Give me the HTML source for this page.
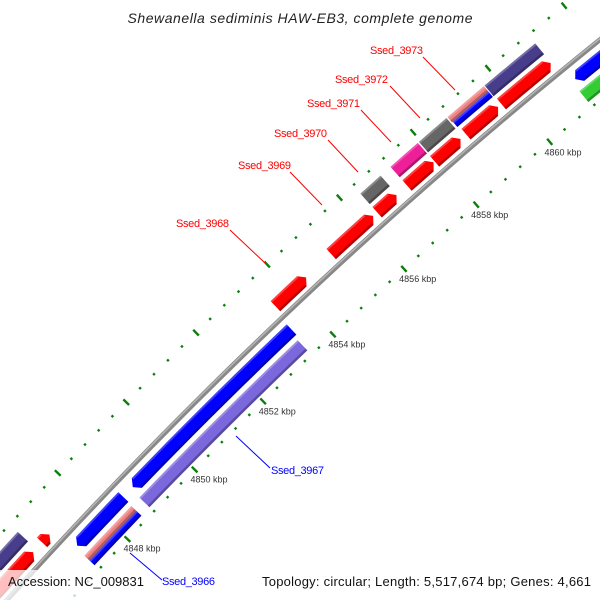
<!DOCTYPE html>
<html><head><meta charset="utf-8"><style>
html,body{margin:0;padding:0;background:#fff;width:600px;height:600px;overflow:hidden;}
svg{display:block;font-family:"Liberation Sans","DejaVu Sans",sans-serif;}
</style></head><body>
<svg id="map" width="600" height="600" viewBox="0 0 600 600" xmlns="http://www.w3.org/2000/svg">
<rect x="0" y="0" width="600" height="600" fill="#fff"/>
<g id="ticks"></g>
<g id="backbone"></g>
<g id="features"></g>
<g id="ticklabels"></g>
<g font-size="11">
<line x1="423" y1="57" x2="455" y2="90" stroke="#f00" stroke-width="1"/>
<text x="370" y="54" fill="#f00" textLength="53">Ssed_3973</text>
<line x1="390" y1="86" x2="420" y2="118" stroke="#f00" stroke-width="1"/>
<text x="335" y="83" fill="#f00" textLength="53">Ssed_3972</text>
<line x1="361" y1="110" x2="391" y2="142" stroke="#f00" stroke-width="1"/>
<text x="307" y="107" fill="#f00" textLength="53">Ssed_3971</text>
<line x1="328" y1="140" x2="358" y2="172" stroke="#f00" stroke-width="1"/>
<text x="274" y="137" fill="#f00" textLength="53">Ssed_3970</text>
<line x1="290" y1="172" x2="322" y2="205" stroke="#f00" stroke-width="1"/>
<text x="238" y="169" fill="#f00" textLength="53">Ssed_3969</text>
<line x1="230" y1="230" x2="265" y2="263" stroke="#f00" stroke-width="1"/>
<text x="176" y="227" fill="#f00" textLength="53">Ssed_3968</text>
<line x1="236" y1="436" x2="270" y2="468" stroke="#00f" stroke-width="1"/>
<text x="271" y="474" fill="#00f" textLength="53">Ssed_3967</text>
<line x1="130" y1="553" x2="162" y2="580" stroke="#00f" stroke-width="1"/>
<text x="162" y="585" fill="#00f" textLength="53">Ssed_3966</text>
</g>
<text x="300" y="23" text-anchor="middle" font-size="14" font-style="italic" fill="#222" textLength="345">Shewanella sediminis HAW-EB3, complete genome</text>
<rect x="0" y="570" width="150" height="30" fill="#fff" fill-opacity="0.75"/>
<text x="8" y="586" font-size="13" fill="#111" textLength="136">Accession: NC_009831</text>
<text x="591" y="586" font-size="13" text-anchor="end" fill="#111" textLength="329">Topology: circular; Length: 5,517,674 bp; Genes: 4,661</text>
</svg>
<script>
// ---- data ----
const majorTicks = [4842,4844,4846,4848,4850,4852,4854,4856,4858,4860,4862,4864];
const tickLabels = ["4842 kbp","4844 kbp","4846 kbp","4848 kbp","4850 kbp","4852 kbp","4854 kbp","4856 kbp","4858 kbp","4860 kbp","4862 kbp","4864 kbp"];
const minorStep = 0.4;
const featStart = [4843.0,4846.75,4853.54,4855.10,4856.37,4857.19,4857.94,4858.79,4859.74, 4843.0,4856.37,4857.19,4857.96,4858.73,4858.75,4859.72, 4847.19,4848.85,4861.23, 4847.14,4847.14,4848.79,4861.14];
const featEnd   = [4846.48,4846.97,4854.40,4856.26,4856.90,4857.91,4858.64,4859.65,4861.05, 4846.57,4856.92,4857.93,4858.70,4859.70,4859.70,4861.06, 4848.57,4853.45,4865.0, 4848.55,4848.55,4853.39,4865.0];
const featLane  = ["f1","f1","f1","f1","f1","f1","f1","f1","f1", "f2","f2","f2","f2","f2o","f2i","f2", "r1","r1","r1", "r2o","r2i","r2","r2"];
const featColor = ["#ff0000","#ff0000","#ff0000","#ff0000","#ff0000","#ff0000","#ff0000","#ff0000","#ff0000", "#483d8b","#666666","#ee1f99","#666666","#f08080","#0000ff","#483d8b", "#0000ff","#0000ff","#0000ff", "#f08080","#0000ff","#7b68dd","#33cc33"];
const featDir   = [1,1,1,1,1,1,1,1,1, 0,0,0,0,0,0,0, -1,-1,-1, 0,0,0,0];

// ---- geometry ----
const NS="http://www.w3.org/2000/svg";
const CX=3815, CY=4036, R_BACK=5129, R_OUT_TICK=5178, R_IN_TICK=5082, R_LAB=5066;
const DEG_PER_KBP=0.545, REF_KBP=4854, REF_DEG=-133.25;
const LANES={f1:[5135,5149],f2:[5153,5167],f2o:[5160,5167],f2i:[5153,5160],r1:[5107,5121],r2:[5088,5102],r2o:[5095,5102],r2i:[5088,5095]};
function ang(k){return (REF_DEG+(k-REF_KBP)*DEG_PER_KBP)*Math.PI/180;}
function pt(k,r){const a=ang(k);return [CX+r*Math.cos(a),CY+r*Math.sin(a)];}
function arcPts(a,b,r){const n=Math.max(2,Math.ceil(Math.abs(b-a)/0.5)+1);const out=[];for(let i=0;i<n;i++){out.push(pt(a+(b-a)*i/(n-1),r));}return out;}
function poly(pts){return "M"+pts.map(p=>p[0].toFixed(2)+","+p[1].toFixed(2)).join("L")+"Z";}

// backbone
const bb=document.getElementById("backbone");
const bbPts=arcPts(4840,4868,R_BACK);
const bbD="M"+bbPts.map(p=>p[0].toFixed(2)+","+p[1].toFixed(2)).join("L");
const bbLine=document.createElementNS(NS,"path");


bbLine.setAttribute("d",bbD);bbLine.setAttribute("fill","none");bbLine.setAttribute("stroke","#888");bbLine.setAttribute("stroke-width","5");
bb.appendChild(bbLine);
const bbHi=document.createElementNS(NS,"path");


bbHi.setAttribute("d","M"+arcPts(4840,4868,R_BACK+1).map(p=>p[0].toFixed(2)+","+p[1].toFixed(2)).join("L"));
bbHi.setAttribute("fill","none");bbHi.setAttribute("stroke","#b5b5b5");bbHi.setAttribute("stroke-width","1.5");
bb.appendChild(bbHi);

// ticks
const tg=document.getElementById("ticks");
function tick(k,r,major){
  const len=major?4:1.2;
  const a=pt(k,r-len),b=pt(k,r+len);
  const l=document.createElementNS(NS,"line");
  
  
  l.setAttribute("x1",a[0]);l.setAttribute("y1",a[1]);l.setAttribute("x2",b[0]);l.setAttribute("y2",b[1]);
  l.setAttribute("stroke","#0a7f0a");l.setAttribute("stroke-width","2.4");
  tg.appendChild(l);
}
for(let i=0;i<majorTicks.length-1;i++){
  const a=majorTicks[i],b=majorTicks[i+1];
  for(let k=a;k<b-1e-6;k+=minorStep){
    const major=Math.abs(k-a)<1e-6;
    tick(k,R_OUT_TICK,major);tick(k,R_IN_TICK,major);
  }
}
tick(majorTicks[majorTicks.length-1],R_OUT_TICK,true);tick(majorTicks[majorTicks.length-1],R_IN_TICK,true);

// tick labels
const tl=document.getElementById("ticklabels");
majorTicks.forEach((k,i)=>{
  const p=pt(k,R_LAB);
  const t=document.createElementNS(NS,"text");
  
  
  t.setAttribute("x",(p[0]+3).toFixed(1));t.setAttribute("y",(p[1]+1.5).toFixed(1));
  t.setAttribute("text-anchor","middle");t.setAttribute("font-size","9");t.setAttribute("fill","#333");
  t.textContent=tickLabels[i];
  tl.appendChild(t);
});

// features
const fg=document.getElementById("features");
featStart.forEach((s,i)=>{
  const e=featEnd[i],lane=LANES[featLane[i]],r0=lane[0],r1=lane[1],dir=featDir[i],mid=(r0+r1)/2;
  const h=0.12;let bs=s,be=e;
  if(dir>0)be=Math.max(s,e-h);
  if(dir<0)bs=Math.min(e,s+h);
  let pts=arcPts(bs,be,r1);
  if(dir>0)pts.push(pt(e,mid));
  pts=pts.concat(arcPts(be,bs,r0));
  if(dir<0)pts.push(pt(s,mid));
  const p=document.createElementNS(NS,"path");
  
  
  p.setAttribute("d",poly(pts));p.setAttribute("fill",featColor[i]);
  fg.appendChild(p);
  const dk=document.createElementNS(NS,"path");
  
  
  dk.setAttribute("d",poly(arcPts(bs,be,r0+2.5).concat(arcPts(be,bs,r0))));
  dk.setAttribute("fill","#000");dk.setAttribute("fill-opacity","0.28");
  fg.appendChild(dk);
  const lt=document.createElementNS(NS,"path");
  
  
  lt.setAttribute("d",poly(arcPts(bs,be,r1).concat(arcPts(be,bs,r1-2))));
  lt.setAttribute("fill","#fff");lt.setAttribute("fill-opacity","0.25");
  fg.appendChild(lt);
});
</script>
</body></html>
